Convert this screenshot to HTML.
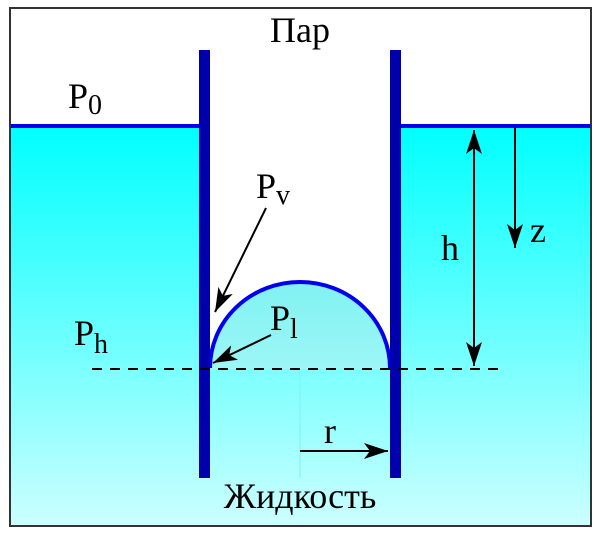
<!DOCTYPE html>
<html><head><meta charset="utf-8"><style>body{margin:0;background:#fff}svg{display:block}</style></head><body>
<svg width="600" height="534" viewBox="0 0 600 534" xmlns="http://www.w3.org/2000/svg" font-family="Liberation Serif, serif">
<defs>
<linearGradient id="g" x1="0" y1="126" x2="0" y2="526" gradientUnits="userSpaceOnUse">
<stop offset="0" stop-color="#00ffff"/><stop offset="1" stop-color="#ccffff"/></linearGradient>
<linearGradient id="g2" x1="0" y1="282" x2="0" y2="526" gradientUnits="userSpaceOnUse">
<stop offset="0" stop-color="#80f2f2"/><stop offset="0.35" stop-color="#9cf6f6"/><stop offset="1" stop-color="#ccffff"/></linearGradient>
<marker id="b" markerWidth="24" markerHeight="16" refX="24" refY="8" orient="auto-start-reverse" markerUnits="userSpaceOnUse"><path d="M0,0 L24,8 L0,16 L6,8 Z" fill="#000"/></marker>
</defs>
<rect x="10" y="126" width="581" height="400" fill="url(#g)"/>
<rect x="210" y="126" width="180" height="400" fill="#fff"/>
<path d="M210,368 A90,86 0 0 1 390,368 L390,526 L210,526 Z" fill="url(#g2)"/>
<rect x="210" y="369" width="180" height="157" fill="url(#g)"/>
<path d="M210,368 A90,86 0 0 1 390,368" fill="none" stroke="#0000ee" stroke-width="4"/>
<line x1="300" y1="370" x2="300" y2="478" stroke="#7ef0f0" stroke-width="1"/>
<line x1="10" y1="126" x2="199" y2="126" stroke="#0000ee" stroke-width="4"/>
<line x1="401" y1="126" x2="591" y2="126" stroke="#0000ee" stroke-width="4"/>
<rect x="199" y="50" width="11" height="428" fill="#0000aa"/>
<rect x="390" y="50" width="11" height="428" fill="#0000aa"/>
<line x1="92" y1="369" x2="505" y2="369" stroke="#000" stroke-width="2" stroke-dasharray="10,8"/>
<rect x="10" y="8" width="581" height="518" fill="none" stroke="#333" stroke-width="2"/>
<line x1="474" y1="130" x2="474" y2="366" stroke="#000" stroke-width="2" marker-start="url(#b)" marker-end="url(#b)"/>
<line x1="515" y1="128" x2="515" y2="248" stroke="#000" stroke-width="2" marker-end="url(#b)"/>
<line x1="266" y1="208" x2="215" y2="312" stroke="#000" stroke-width="2" marker-end="url(#b)"/>
<line x1="271" y1="335" x2="213" y2="363" stroke="#000" stroke-width="2" marker-end="url(#b)"/>
<line x1="300" y1="451" x2="388" y2="451" stroke="#000" stroke-width="2" marker-end="url(#b)"/>
<g font-size="36" fill="#000">
<text x="300" y="42" text-anchor="middle">Пар</text>
<text x="68" y="108">P<tspan font-size="28" dy="6">0</tspan></text>
<text x="256" y="198">P<tspan font-size="28" dy="6">v</tspan></text>
<text x="441" y="260">h</text>
<text x="530" y="242">z</text>
<text x="74" y="345">P<tspan font-size="28" dy="8">h</tspan></text>
<text x="270" y="330">P<tspan font-size="28" dy="8">l</tspan></text>
<text x="324" y="443">r</text>
<text x="300" y="508" text-anchor="middle">Жидкость</text>
</g>
</svg>
</body></html>
